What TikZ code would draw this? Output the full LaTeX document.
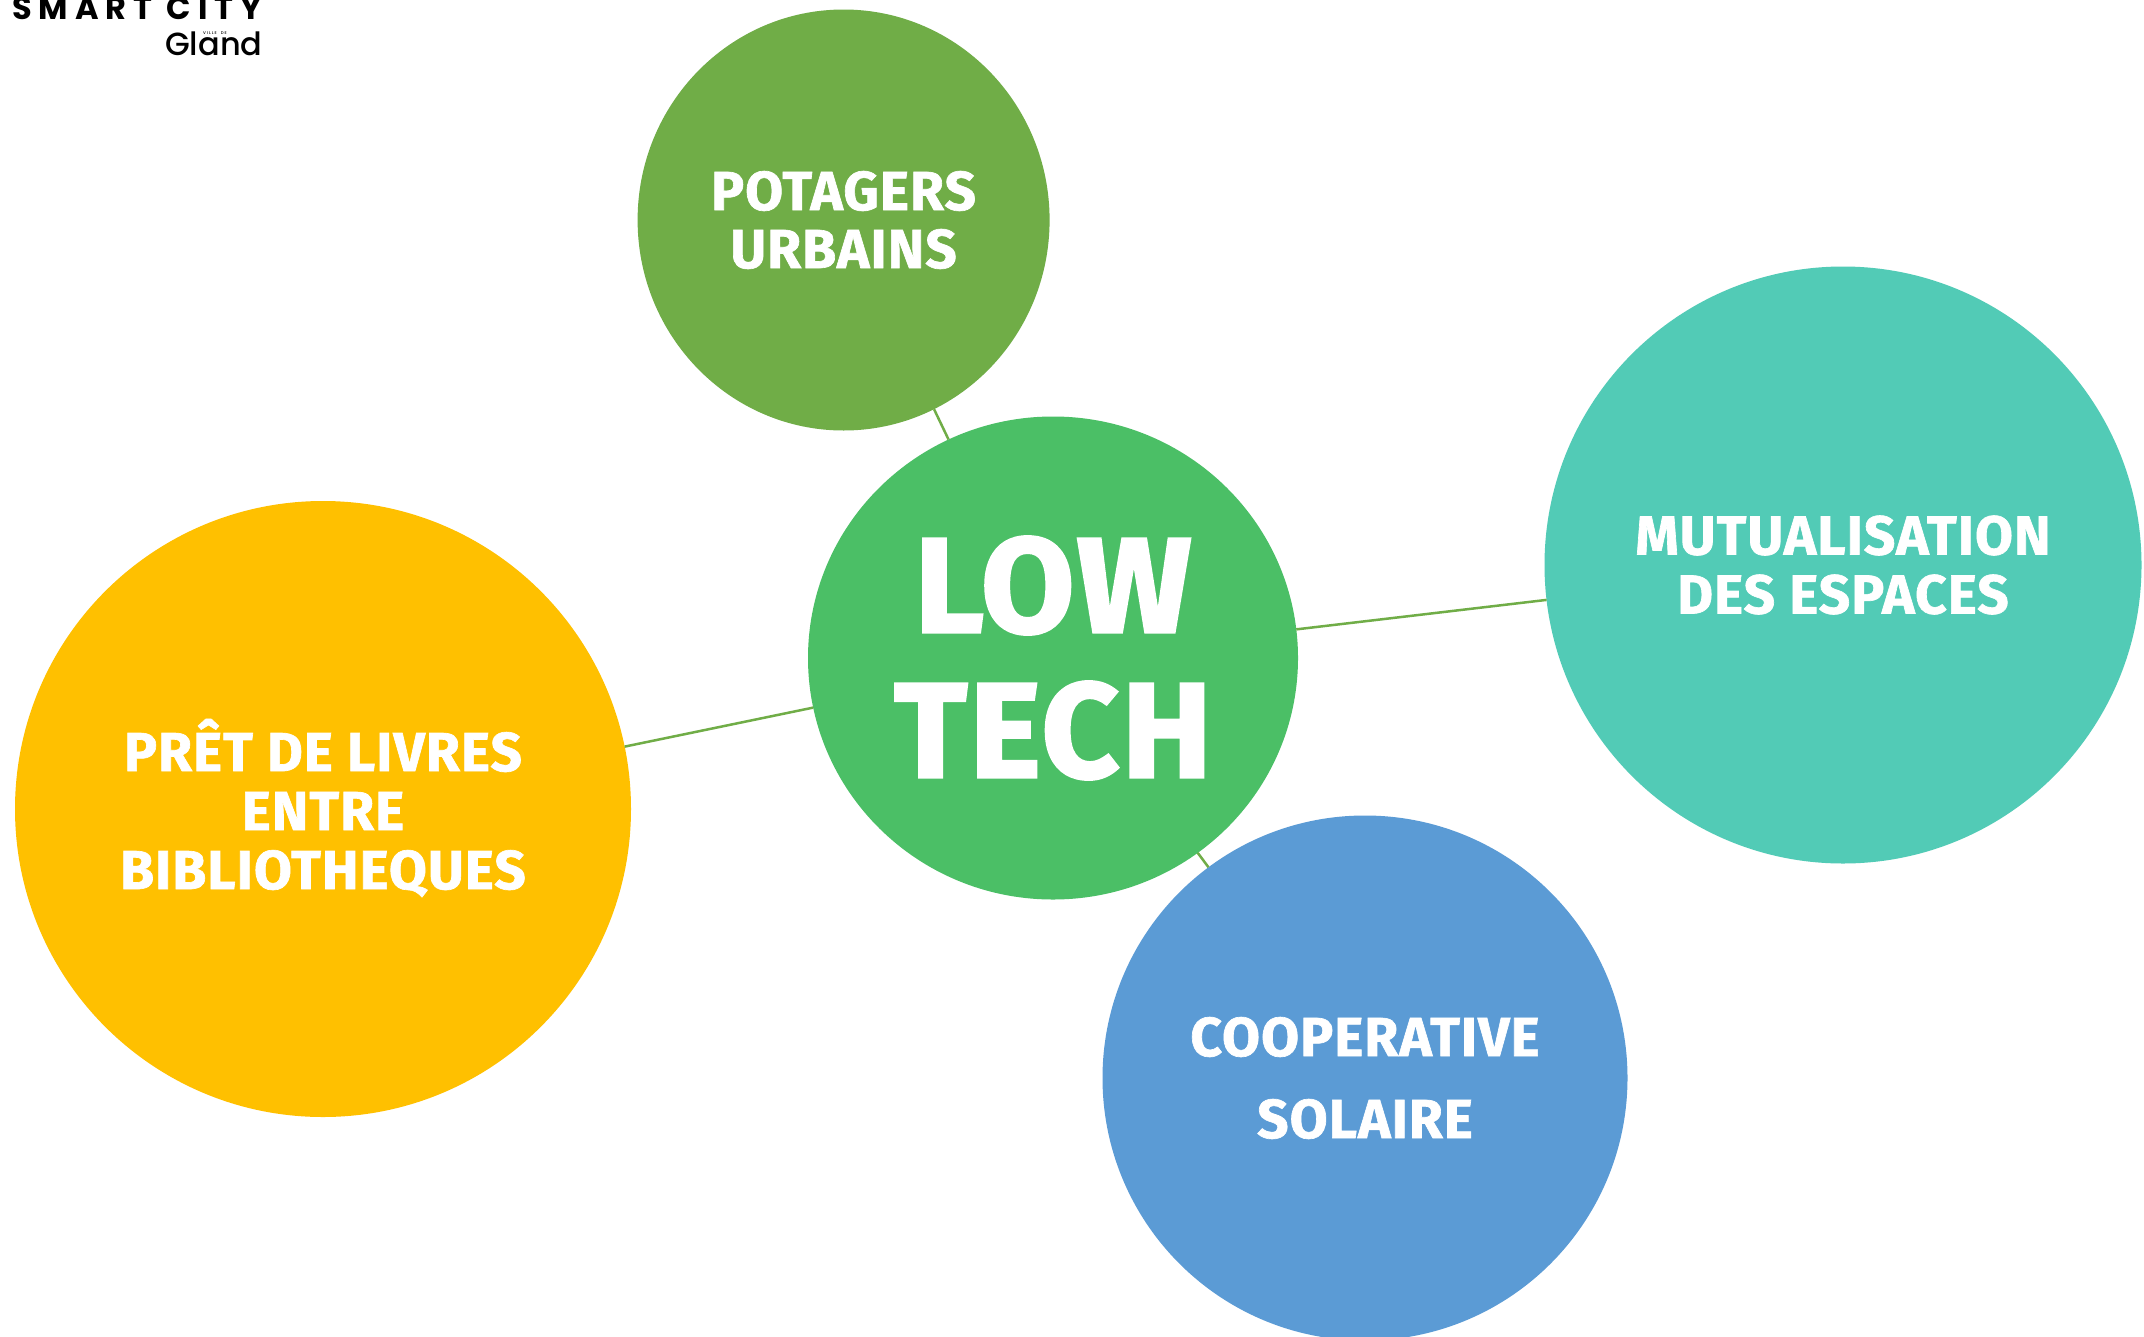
\documentclass[tikz,border=0pt]{standalone}
\usepackage{fontspec}
\usetikzlibrary{shapes.geometric}
\setmainfont{Fira Sans}[UprightFont=* Bold]
\newfontfamily\labelfont{Fira Sans}[UprightFont=* Bold,FakeBold=1.2,LetterSpace=2]
\newfontfamily\bigfont{Fira Sans}[UprightFont=* Bold,FakeBold=2,LetterSpace=2]
\newfontfamily\logofont{Poppins}[UprightFont=* Bold,LetterSpace=22]
\newfontfamily\glandfont{Poppins}[UprightFont=* Medium]
\definecolor{linkgreen}{HTML}{70AD47}
\definecolor{cLow}{HTML}{4BBF66}
\definecolor{cPot}{HTML}{70AD47}
\definecolor{cMut}{HTML}{52CBB6}
\definecolor{cCoop}{HTML}{5B9BD5}
\definecolor{cPret}{HTML}{FFC000}
\tikzset{
  bubble/.style={ellipse,inner sep=0pt,outer sep=0pt,text=white,align=center},
  link/.style={draw=linkgreen,line width=2.5pt},
  potlabel/.style={font=\labelfont\fontsize{55}{58}\selectfont},
  mutlabel/.style={font=\labelfont\fontsize{55}{59}\selectfont},
  pretlabel/.style={font=\labelfont\fontsize{55}{59}\selectfont},
  coop/.style={font=\labelfont\fontsize{55}{82}\selectfont},
  biglabel/.style={font=\bigfont\fontsize{135}{145}\selectfont},
}
\begin{document}
\begin{tikzpicture}[x=1pt,y=-1pt]
\useasboundingbox (0,0) rectangle (2144,1336);
\clip (0,0) rectangle (2144,1336);
\fill[white] (0,0) rectangle (2144,1336);
\node[bubble,fill=cLow,minimum width=490pt,minimum height=483pt,biglabel] (low) at (1053,658) {LOW\\TECH};
\node[bubble,fill=cPot,minimum width=412pt,minimum height=421pt,potlabel] (pot) at (843.6,220) {POTAGERS\\URBAINS};
\node[bubble,fill=cMut,minimum width=597pt,minimum height=597pt,mutlabel] (mut) at (1843,565) {MUTUALISATION\\DES ESPACES};
\node[bubble,fill=cCoop,minimum width=525pt,minimum height=525pt,coop] (coo) at (1365,1078) {COOPERATIVE\\SOLAIRE};
\node[bubble,fill=cPret,minimum width=616pt,minimum height=616pt,pretlabel] (pret) at (323,809) {PRÊT DE LIVRES\\ENTRE\\BIBLIOTHEQUES\rule[-10pt]{0pt}{10pt}};
\draw[link] (low) -- (pot);
\draw[link] (low) -- (mut);
\draw[link] (low) -- (coo);
\draw[link] (low) -- (pret);
\node[anchor=base west,inner sep=0pt,text=black,font=\logofont\fontsize{32}{32}\selectfont] (logo) at (12,19) {SMART CITY};
\node[anchor=base west,inner sep=0pt,text=black,font=\glandfont\fontsize{32}{32}\selectfont] (gland) at (165,55) {Gland};
\node[anchor=base west,inner sep=0pt,text=black,font=\glandfont\fontsize{4}{4}\selectfont] (ville) at (203,34) {V I L L E\quad D E};
\end{tikzpicture}
\end{document}
